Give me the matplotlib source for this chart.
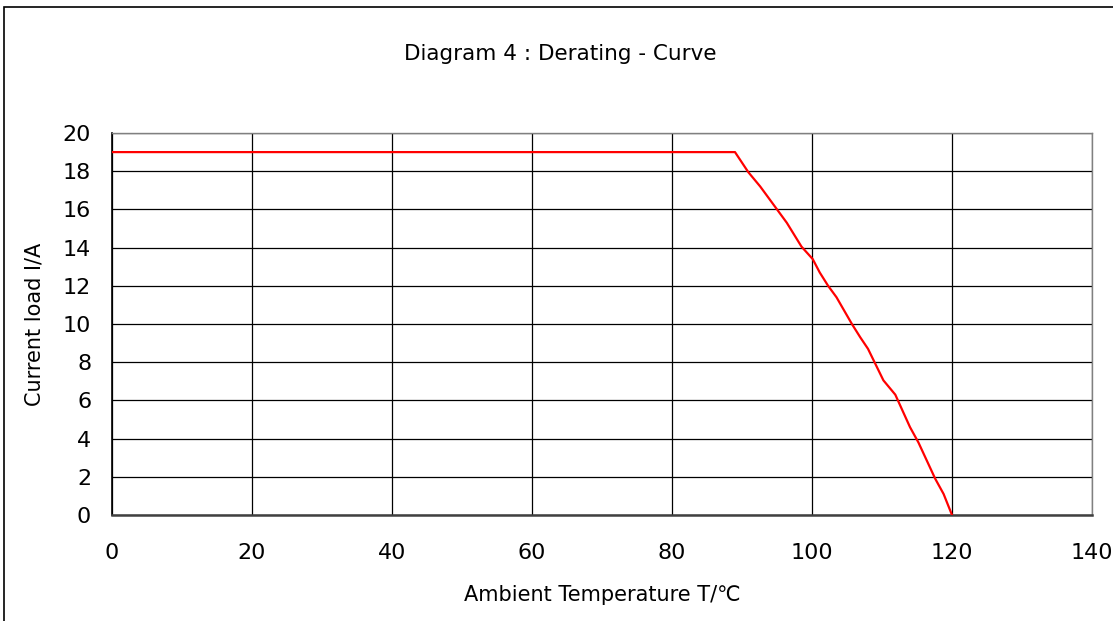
import matplotlib
matplotlib.use('Agg')
import matplotlib.pyplot as plt
from matplotlib.patches import Rectangle

plt.rcParams['font.family'] = ['DejaVu Sans', 'Noto Sans CJK KR']

# derating curve
temp = [0, 89.0, 90.9, 92.6, 94.0, 95.0, 96.4, 98.5, 100.1, 101.1, 102.3, 103.5,
        105.7, 106.9, 108.0, 110.2, 111.9, 114.0, 115.2, 117.6, 118.8, 120.0]
current = [19, 19, 17.95, 17.2, 16.5, 16.0, 15.3, 14.05, 13.4, 12.7, 12.0, 11.4,
           10.0, 9.3, 8.7, 7.05, 6.3, 4.6, 3.8, 1.9, 1.1, 0]

x_ticks = [0, 20, 40, 60, 80, 100, 120, 140]
y_ticks = [0, 2, 4, 6, 8, 10, 12, 14, 16, 18, 20]

fig = plt.figure(figsize=(11.13, 6.21), dpi=100)
W, H = 1113, 621
ax = fig.add_axes([112 / W, 1 - 515 / H, 980 / W, 382 / H])

ax.plot(temp, current, color='#ff0000', lw=1.6, zorder=3)
ax.set_xlim(0, 140)
ax.set_ylim(0, 20)
ax.set_xticks(x_ticks)
ax.set_yticks(y_ticks)
ax.grid(True, color='black', lw=0.9)
ax.tick_params(axis='both', length=0, labelsize=16, colors='black')
ax.tick_params(axis='x', pad=20)
ax.tick_params(axis='y', pad=15)
for s in ['top', 'right']:
    ax.spines[s].set_color('#808080')
    ax.spines[s].set_linewidth(1.0)
ax.spines['left'].set_color('black')
ax.spines['left'].set_linewidth(1.2)
ax.spines['bottom'].set_color('#404040')
ax.spines['bottom'].set_linewidth(1.8)

ax.set_xlabel('Ambient Temperature T/℃', fontsize=15, labelpad=16)
ax.set_ylabel('Current load I/A', fontsize=15, labelpad=13)

fig.text(560 / W, 1 - 54 / H, 'Diagram 4 : Derating - Curve', fontsize=15.5,
         ha='center', va='center')

# outer chart border
fig.patches.append(Rectangle((4 / W, -0.05), 1.2, 1 - 7 / H + 0.05,
                             transform=fig.transFigure, fill=False,
                             edgecolor='black', lw=1.2))

fig.savefig('out.png', dpi=100)
